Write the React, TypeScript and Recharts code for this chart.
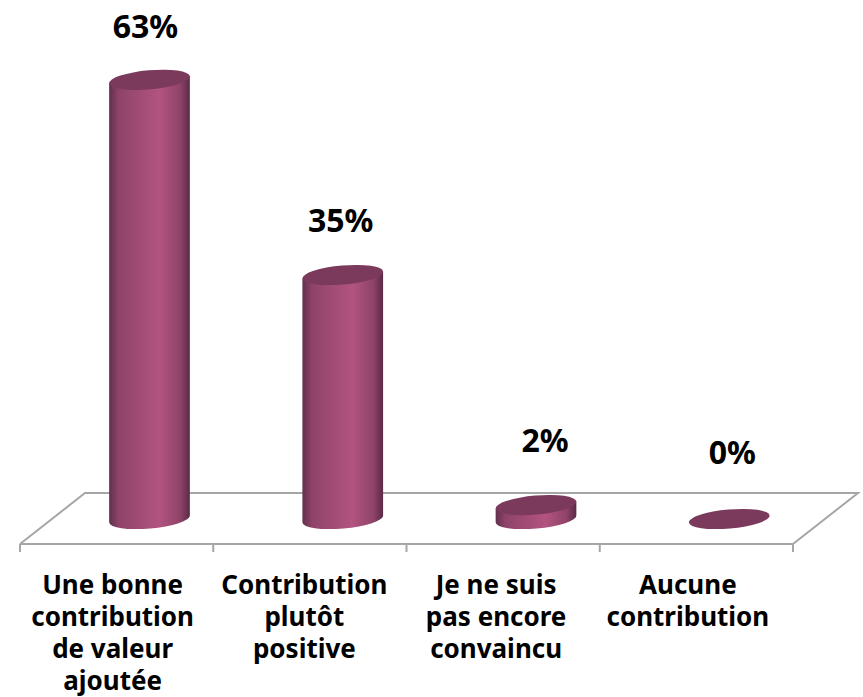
import { BarChart, Bar, XAxis, YAxis, LabelList } from 'recharts';

const categories = [
  'Une bonne\ncontribution\nde valeur\najoutée',
  'Contribution\nplutôt\npositive',
  'Je ne suis\npas encore\nconvaincu',
  'Aucune\ncontribution',
];
const shares = [63, 35, 2, 0];

const WIDTH = 863;
const HEIGHT = 697;
const AXIS_HEIGHT = 153;
const MARGIN = { top: 56, right: 70, bottom: 0, left: 20 };
const FONT = '"Noto Sans", sans-serif';
const AXIS_GREY = '#a6a6a6';

// the fake 3D: bars stand on the middle of the floor, shifted back and right
const DEPTH_X = 33;
const DEPTH_Y = -25;
const TILT = -5;
const RY = 9.5;

// labels in the original are not quite centred on their bars
const labelNudge = [
  { dx: 29, dy: -54 },
  { dx: 31, dy: -55 },
  { dx: 42, dy: -65 },
  { dx: 36, dy: -67 },
];

const data = categories.map((name, i) => ({ name, share: shares[i] }));

function Cylinder({ x, y, width, height }: any) {
  const cx = x + width / 2 + DEPTH_X;
  const rx = width / 2;
  const top = y + DEPTH_Y;
  const bottom = y + height + DEPTH_Y;
  const rad = (TILT * Math.PI) / 180;
  const ex = rx * Math.cos(rad);
  const ey = rx * Math.sin(rad);
  const body = `M${cx - ex} ${top - ey} L${cx - ex} ${bottom - ey} A${rx} ${RY} ${TILT} 0 0 ${cx + ex} ${bottom + ey} L${cx + ex} ${top + ey} Z`;
  return (
    <g>
      {height > 0 && <path d={body} fill="url(#cylinderBody)" />}
      <ellipse cx={cx} cy={top} rx={rx} ry={RY} fill="#7b395b" transform={`rotate(${TILT} ${cx} ${top})`} />
    </g>
  );
}

function CategoryTick({ x, payload, index }: any) {
  const lines = String(payload.value).split('\n');
  const labelX = x - 4 - index * 1.5;
  return (
    <text textAnchor="middle" fontFamily={FONT} fontWeight={700} fontSize={26} fill="#000">
      {lines.map((line, i) => (
        <tspan key={line} x={labelX} y={594 + i * 32}>
          {line}
        </tspan>
      ))}
    </text>
  );
}

function ShareLabel({ x, y, value, index }: any) {
  const nudge = labelNudge[index];
  return (
    <text
      x={x + 40.5 + nudge.dx}
      y={y + DEPTH_Y + nudge.dy + 12}
      textAnchor="middle"
      fontFamily={FONT}
      fontWeight={700}
      fontSize={32}
      fill="#000"
    >
      {value}%
    </text>
  );
}

function Floor() {
  const front = HEIGHT - AXIS_HEIGHT;
  const left = MARGIN.left;
  const right = WIDTH - MARGIN.right;
  const band = (right - left) / categories.length;
  const back = front - 51;
  const slant = 65;
  return (
    <g stroke={AXIS_GREY} strokeWidth={2} fill="none">
      <path d={`M${left} ${front} L${left + slant} ${back} L${right + slant} ${back} L${right} ${front}`} />
      {[0, 1, 2, 3, 4].map((i) => (
        <line key={i} x1={left + i * band} x2={left + i * band} y1={front} y2={front + 8} />
      ))}
    </g>
  );
}

export default function App() {
  return (
    <div style={{ position: 'absolute', left: 0, top: 0, width: WIDTH, height: HEIGHT }}>
      <BarChart width={WIDTH} height={HEIGHT} data={data} margin={MARGIN} barSize={81}>
        <defs>
          <linearGradient id="cylinderBody" x1="0" y1="0" x2="1" y2="0">
            <stop offset="0" stopColor="#60304c" />
            <stop offset="0.12" stopColor="#8f4369" />
            <stop offset="0.62" stopColor="#b2547f" />
            <stop offset="0.88" stopColor="#8f4369" />
            <stop offset="1" stopColor="#5a2a46" />
          </linearGradient>
        </defs>
        <Floor />
        <XAxis
          dataKey="name"
          interval={0}
          height={AXIS_HEIGHT}
          axisLine={{ stroke: AXIS_GREY, strokeWidth: 2 }}
          tickLine={false}
          tick={<CategoryTick />}
        />
        <YAxis hide domain={[0, 70]} />
        <Bar dataKey="share" shape={<Cylinder />} isAnimationActive={false}>
          <LabelList dataKey="share" content={<ShareLabel />} />
        </Bar>
      </BarChart>
    </div>
  );
}
